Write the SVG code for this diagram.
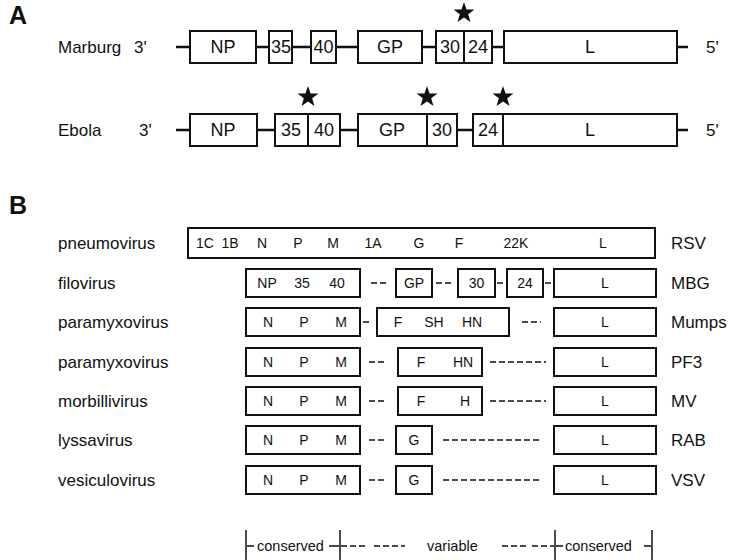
<svg xmlns="http://www.w3.org/2000/svg" width="737" height="560" viewBox="0 0 737 560">
<style>
text{font-family:"Liberation Sans",Arial,sans-serif;fill:#111}
.box{fill:#fff;stroke:#111;stroke-width:2}
.ln{stroke:#111;stroke-width:2.5;fill:none}
.dash{stroke:#111;stroke-width:1.5;stroke-dasharray:6,3;fill:none}
.bar{stroke:#111;stroke-width:1.5;fill:none}
.big{font-size:25px;font-weight:bold}
.lab{font-size:17px}
.ta{font-size:18px;text-anchor:middle}
.tb{font-size:14px;text-anchor:middle}
.lg{font-size:14.5px}
</style>
<defs>
<path id="star" d="M0,-11 L2.59,-3.56 L10.46,-3.4 L4.18,1.36 L6.47,8.9 L0,4.4 L-6.47,8.9 L-4.18,1.36 L-10.46,-3.4 L-2.59,-3.56 Z" fill="#111"/>
</defs>
<rect width="737" height="560" fill="#fff"/>
<text class="big" x="9" y="24">A</text>
<text class="big" x="9" y="214">B</text>
<g id="connectors">
<path class="ln" d="M176,47H190 M256,47H269 M292,47H311 M336,47H358 M422,47H436 M492,47H504 M677,47H688"/>
<path class="ln" d="M176,130H190 M257,130H275 M340,130H358 M457,130H473 M677,130H688"/>
<path class="dash" d="M371,283H389 M436,283H452 M497,283H503 M545,283H552"/>
<path class="dash" d="M363,322H369 M522,322H541"/>
<path class="dash" d="M369,362H387 M490,362H546"/>
<path class="dash" d="M369,401H387 M490,401H546"/>
<path class="dash" d="M369,440H387 M443,440H541"/>
<path class="dash" d="M369,480H387 M443,480H541"/>
</g>
<g id="marburg">
<text class="lab" x="58" y="53">Marburg</text>
<text class="lab" x="134" y="53">3'</text>
<rect class="box" x="190" y="31" width="66" height="32"/><text class="ta" x="223" y="53">NP</text>
<rect class="box" x="269" y="31" width="23" height="32"/><text class="ta" x="281" y="53">35</text>
<rect class="box" x="311" y="31" width="25" height="32"/><text class="ta" x="323.5" y="53">40</text>
<rect class="box" x="358" y="31" width="64" height="32"/><text class="ta" x="390" y="53">GP</text>
<rect class="box" x="436" y="31" width="56" height="32"/><path class="bar" d="M464,31V63" style="stroke-width:2"/>
<text class="ta" x="450" y="53">30</text><text class="ta" x="478" y="53">24</text>
<rect class="box" x="504" y="31" width="173" height="32"/><text class="ta" x="590" y="53">L</text>
<text class="lab" x="706" y="53">5'</text>
<use href="#star" x="464" y="13"/>
</g>
<g id="ebola">
<text class="lab" x="58" y="136">Ebola</text>
<text class="lab" x="139" y="136">3'</text>
<rect class="box" x="190" y="114" width="67" height="32"/><text class="ta" x="223" y="136">NP</text>
<rect class="box" x="275" y="114" width="65" height="32"/><path class="bar" d="M308,114V146" style="stroke-width:2"/>
<text class="ta" x="291" y="136">35</text><text class="ta" x="324" y="136">40</text>
<rect class="box" x="358" y="114" width="99" height="32"/><path class="bar" d="M427,114V146" style="stroke-width:2"/>
<text class="ta" x="392" y="136">GP</text><text class="ta" x="442" y="136">30</text>
<rect class="box" x="473" y="114" width="204" height="32"/><path class="bar" d="M503,114V146" style="stroke-width:2"/>
<text class="ta" x="488" y="136">24</text><text class="ta" x="590" y="136">L</text>
<text class="lab" x="706" y="136">5'</text>
<use href="#star" x="308" y="97"/>
<use href="#star" x="427" y="97"/>
<use href="#star" x="503" y="97"/>
</g>
<g id="pneumovirus">
<text class="lab" x="58" y="249">pneumovirus</text>
<rect class="box" x="188" y="228" width="467" height="30"/>
<text class="tb" x="205" y="248">1C</text><text class="tb" x="230" y="248">1B</text>
<text class="tb" x="262" y="248">N</text><text class="tb" x="298" y="248">P</text><text class="tb" x="333" y="248">M</text>
<text class="tb" x="373" y="248">1A</text><text class="tb" x="419" y="248">G</text><text class="tb" x="459" y="248">F</text>
<text class="tb" x="516" y="248">22K</text><text class="tb" x="603" y="248">L</text>
<text class="lab" x="671" y="249">RSV</text>
</g>
<g id="filovirus">
<text class="lab" x="58" y="289">filovirus</text>
<rect class="box" x="246" y="269" width="114" height="28"/>
<text class="tb" x="267" y="288">NP</text><text class="tb" x="302" y="288">35</text><text class="tb" x="337" y="288">40</text>
<rect class="box" x="396" y="269" width="36" height="28"/><text class="tb" x="414" y="288">GP</text>
<rect class="box" x="458" y="269" width="37" height="28"/><text class="tb" x="476.5" y="288">30</text>
<rect class="box" x="507" y="269" width="36" height="28"/><text class="tb" x="525" y="288">24</text>
<rect class="box" x="554" y="269" width="102" height="28"/><text class="tb" x="605" y="288">L</text>
<text class="lab" x="671" y="289">MBG</text>
</g>
<g id="mumps">
<text class="lab" x="58" y="328">paramyxovirus</text>
<rect class="box" x="246" y="308" width="114" height="28"/>
<text class="tb" x="268" y="327">N</text><text class="tb" x="304" y="327">P</text><text class="tb" x="341" y="327">M</text>
<rect class="box" x="377" y="308" width="132" height="28"/>
<text class="tb" x="398" y="327">F</text><text class="tb" x="434" y="327">SH</text><text class="tb" x="472" y="327">HN</text>
<rect class="box" x="554" y="308" width="102" height="28"/><text class="tb" x="605" y="327">L</text>
<text class="lab" x="671" y="328">Mumps</text>
</g>
<g id="pf3">
<text class="lab" x="58" y="368">paramyxovirus</text>
<rect class="box" x="246" y="348" width="114" height="28"/>
<text class="tb" x="268" y="367">N</text><text class="tb" x="304" y="367">P</text><text class="tb" x="341" y="367">M</text>
<rect class="box" x="398" y="348" width="84" height="28"/>
<text class="tb" x="421" y="367">F</text><text class="tb" x="463" y="367">HN</text>
<rect class="box" x="554" y="348" width="102" height="28"/><text class="tb" x="605" y="367">L</text>
<text class="lab" x="671" y="368">PF3</text>
</g>
<g id="mv">
<text class="lab" x="58" y="407">morbillivirus</text>
<rect class="box" x="246" y="387" width="114" height="28"/>
<text class="tb" x="268" y="406">N</text><text class="tb" x="304" y="406">P</text><text class="tb" x="341" y="406">M</text>
<rect class="box" x="398" y="387" width="84" height="28"/>
<text class="tb" x="421" y="406">F</text><text class="tb" x="465" y="406">H</text>
<rect class="box" x="554" y="387" width="102" height="28"/><text class="tb" x="605" y="406">L</text>
<text class="lab" x="671" y="407">MV</text>
</g>
<g id="rab">
<text class="lab" x="58" y="446">lyssavirus</text>
<rect class="box" x="246" y="426" width="114" height="28"/>
<text class="tb" x="268" y="445">N</text><text class="tb" x="304" y="445">P</text><text class="tb" x="341" y="445">M</text>
<rect class="box" x="396" y="426" width="36" height="28"/><text class="tb" x="414" y="445">G</text>
<rect class="box" x="554" y="426" width="102" height="28"/><text class="tb" x="605" y="445">L</text>
<text class="lab" x="671" y="446">RAB</text>
</g>
<g id="vsv">
<text class="lab" x="58" y="486">vesiculovirus</text>
<rect class="box" x="246" y="466" width="114" height="28"/>
<text class="tb" x="268" y="485">N</text><text class="tb" x="304" y="485">P</text><text class="tb" x="341" y="485">M</text>
<rect class="box" x="396" y="466" width="36" height="28"/><text class="tb" x="414" y="485">G</text>
<rect class="box" x="554" y="466" width="102" height="28"/><text class="tb" x="605" y="485">L</text>
<text class="lab" x="671" y="486">VSV</text>
</g>
<g id="legend">
<path class="bar" d="M246,530V560 M340,530V560 M555,530V560 M652,530V560"/>
<path class="bar" d="M247,546H254 M329,546H339"/>
<path class="dash" d="M341,546H368 M374,546H405 M502,546H526 M532,546H554"/>
<path class="bar" d="M556,546H563 M644,546H651"/>
<text class="lg" x="257" y="551">conserved</text>
<text class="lg" x="427" y="551">variable</text>
<text class="lg" x="565" y="551">conserved</text>
</g>
</svg>
